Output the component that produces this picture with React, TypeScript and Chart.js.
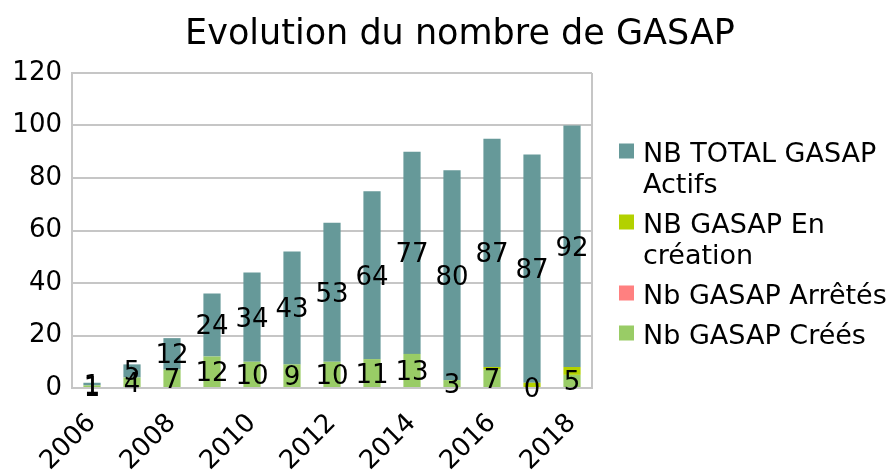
import React, { useEffect, useRef } from 'react';
import { Chart, registerables } from 'chart.js';

Chart.register(...registerables);

// ---- Data ----
const years = ['2006', '2007', '2008', '2009', '2010', '2011', '2012', '2013', '2014', '2015', '2016', '2017', '2018'];
const creesValues = [1, 4, 7, 12, 10, 9, 10, 11, 13, 3, 7, 0, 5];
const arretesValues = [0, 0, 0, 0, 0, 0, 0, 0, 0, 0, 0, 0, 0];
const enCreationValues = [0, 0, 0, 0, 0, 0, 0, 0, 0, 0, 1, 2, 3];
const totalActifsValues = [1, 5, 12, 24, 34, 43, 53, 64, 77, 80, 87, 87, 92];
const yTickValues = [0, 20, 40, 60, 80, 100, 120];

const titleText = 'Evolution du nombre de GASAP';
const seriesNames = ['Nb GASAP Créés', 'Nb GASAP Arrêtés', 'NB GASAP En création', 'NB TOTAL GASAP Actifs'];
const legendLines = [
  ['NB TOTAL GASAP', 'Actifs'],
  ['NB GASAP En', 'création'],
  ['Nb GASAP Arrêtés'],
  ['Nb GASAP Créés'],
];

const FONT = '"DejaVu Sans", "Noto Sans", sans-serif';
const C_TOTAL = '#669999';
const C_ENCREATION = '#b3d100';
const C_ARRETES = '#ff8080';
const C_CREES = '#99cc66';
const GRID = '#c6c6c6';
const LABEL_SIZE = 26;
const LEGEND_SIZE = 27;

const labeledDatasets = [0, 3];

const valueLabelsPlugin = {
  id: 'valueLabels',
  afterDatasetsDraw(chart: any) {
    const ctx = chart.ctx;
    ctx.save();
    ctx.font = `${LABEL_SIZE}px ${FONT}`;
    ctx.fillStyle = '#000';
    ctx.textAlign = 'center';
    ctx.textBaseline = 'alphabetic';
    labeledDatasets.forEach((di) => {
      const meta = chart.getDatasetMeta(di);
      const data = chart.data.datasets[di].data;
      meta.data.forEach((el: any, j: number) => {
        const p = el.getProps(['x', 'y', 'base'], true);
        const cy = (p.y + p.base) / 2;
        ctx.fillText(String(data[j]), p.x, cy + LABEL_SIZE * 0.3645);
      });
    });
    ctx.restore();
  },
};

const frameAndTextPlugin = {
  id: 'frameAndText',
  afterDraw(chart: any) {
    const ctx = chart.ctx;
    const a = chart.chartArea;
    ctx.save();
    // right frame edge
    ctx.strokeStyle = GRID;
    ctx.lineWidth = 2;
    ctx.beginPath();
    ctx.moveTo(a.right, a.top);
    ctx.lineTo(a.right, a.bottom);
    ctx.stroke();

    // title
    ctx.fillStyle = '#000';
    ctx.font = `35px ${FONT}`;
    ctx.textAlign = 'center';
    ctx.textBaseline = 'alphabetic';
    ctx.fillText(titleText, chart.width / 2 + 15, 44);

    // legend
    const colors = [C_TOTAL, C_ENCREATION, C_ARRETES, C_CREES];
    ctx.font = `${LEGEND_SIZE}px ${FONT}`;
    ctx.textAlign = 'left';
    const boxX = a.right + 27;
    const textX = a.right + 51;
    let baseline = 161.5;
    legendLines.forEach((lines, i) => {
      ctx.fillStyle = colors[i];
      ctx.fillRect(boxX, baseline - 18, 15, 15);
      ctx.fillStyle = '#000';
      lines.forEach((ln, k) => {
        ctx.fillText(ln, textX, baseline);
        if (k < lines.length - 1) baseline += 31;
      });
      baseline += 40;
    });
    ctx.restore();
  },
};

export default function App() {
  const canvasRef = useRef<HTMLCanvasElement | null>(null);

  useEffect(() => {
    if (!canvasRef.current) return;
    const chart = new Chart(canvasRef.current, {
      type: 'bar',
      data: {
        labels: years,
        datasets: [
          { label: seriesNames[0], data: creesValues, backgroundColor: C_CREES },
          { label: seriesNames[1], data: arretesValues, backgroundColor: C_ARRETES },
          { label: seriesNames[2], data: enCreationValues, backgroundColor: C_ENCREATION },
          { label: seriesNames[3], data: totalActifsValues, backgroundColor: C_TOTAL },
        ],
      },
      options: {
        animation: false,
        responsive: false,
        maintainAspectRatio: false,
        layout: { padding: { left: 0, right: 298, top: 73, bottom: 0 } },
        datasets: { bar: { barPercentage: 0.43, categoryPercentage: 1 } } as any,
        plugins: {
          legend: { display: false },
          tooltip: { enabled: false },
          title: { display: false },
        },
        scales: {
          x: {
            stacked: true,
            grid: { display: false, drawTicks: false },
            border: { color: GRID, width: 2 },
            ticks: {
              autoSkip: false,
              maxRotation: 45,
              minRotation: 45,
              padding: 20,
              labelOffset: 0,
              color: '#000',
              font: { size: LABEL_SIZE, family: FONT },
              callback: function (this: any, v: any, i: number) {
                return i % 2 === 0 ? years[i] : '';
              },
            },
            afterFit: (s: any) => {
              s.height = 82;
            },
          },
          y: {
            stacked: true,
            min: 0,
            max: 120,
            afterBuildTicks: (s: any) => {
              s.ticks = yTickValues.map((v) => ({ value: v }));
            },
            ticks: { color: '#000', padding: 10, font: { size: LABEL_SIZE, family: FONT } },
            grid: { color: GRID, lineWidth: 2, drawTicks: false },
            border: { color: GRID, width: 2 },
            afterFit: (s: any) => {
              s.width = 72;
            },
          },
        },
      },
      plugins: [valueLabelsPlugin, frameAndTextPlugin],
    });
    return () => chart.destroy();
  }, []);

  return (
    <div style={{ position: 'absolute', left: 0, top: 0, width: 890, height: 470, background: '#fff' }}>
      <canvas ref={canvasRef} width={890} height={470} style={{ width: 890, height: 470 }} />
    </div>
  );
}
